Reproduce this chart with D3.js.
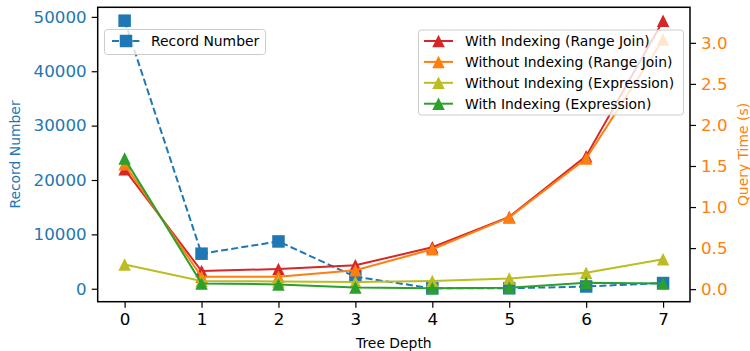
<!DOCTYPE html>
<html lang="en">
    <head>
        <meta charset="utf-8">
        <title>Record number and query time by tree depth</title>
        <script type="text/javascript" src="https://cdn.jsdelivr.net/npm/d3@7/dist/d3.min.js"></script>
        <style type="text/css">
            body { margin: 0; background: #fff; }
            svg { font-family: "DejaVu Sans", sans-serif; }
        </style>
    </head>
    <body>
        <script type="text/javascript">
            //Data
            var depth = [0, 1, 2, 3, 4, 5, 6, 7];
            var recordNumber = [49300, 6450, 8700, 2200, 80, 80, 420, 1050];
            var withIdxRange = [1.46, 0.22, 0.245, 0.29, 0.51, 0.88, 1.62, 3.27];
            var withoutIdxRange = [1.52, 0.15, 0.15, 0.23, 0.486, 0.874, 1.59, 3.04];
            var withoutIdxExpr = [0.30, 0.10, 0.094, 0.086, 0.10, 0.13, 0.20, 0.364];
            var withIdxExpr = [1.59, 0.07, 0.058, 0.02, 0.01, 0.016, 0.077, 0.07];
            var leftTicks = [0, 10000, 20000, 30000, 40000, 50000];
            var rightTicks = [0, 0.5, 1.0, 1.5, 2.0, 2.5, 3.0];

            var timeSeries = [
                { name: "With Indexing (Range Join)", values: withIdxRange, color: "#d62728" },
                { name: "Without Indexing (Range Join)", values: withoutIdxRange, color: "#ff7f0e" },
                { name: "Without Indexing (Expression)", values: withoutIdxExpr, color: "#bcbd22" },
                { name: "With Indexing (Expression)", values: withIdxExpr, color: "#2ca02c" }
            ];

            var w = 750;
            var h = 351;
            //plot box edges (note: "top" is reserved on window, so prefix these)
            var pLeft = 97.7, pRight = 690, pTop = 7.3, pBottom = 301.7;

            var svg = d3.select("body")
                        .append("svg")
                        .attr("width", w)
                        .attr("height", h);

            //matplotlib style 5% margins
            function padded(arr) {
                var ext = d3.extent(arr);
                var r = ext[1] - ext[0];
                return [ext[0] - 0.05 * r, ext[1] + 0.05 * r];
            }

            var xScale = d3.scaleLinear().domain([-0.35, 7.35]).range([pLeft, pRight]);
            var yLeft = d3.scaleLinear().domain(padded(recordNumber)).range([pBottom, pTop]);
            var allTimes = [].concat(withIdxRange, withoutIdxRange, withoutIdxExpr, withIdxExpr);
            var yRight = d3.scaleLinear().domain(padded(allTimes)).range([pBottom, pTop]);

            var blue = "#1f77b4", orange = "#ff7f0e";
            var ms = 12.5;
            var tri = d3.symbol().type({ draw: function(ctx, size) {
                var s = Math.sqrt(size) / 2;
                ctx.moveTo(0, -s); ctx.lineTo(s, s); ctx.lineTo(-s, s); ctx.closePath();
            }}).size(ms * ms);

            //Axes
            var xAxis = d3.axisBottom(xScale).tickValues(depth).tickSize(6).tickPadding(5);
            var lAxis = d3.axisLeft(yLeft).tickValues(leftTicks).tickSize(6).tickPadding(5)
                            .tickFormat(d3.format("d"));
            var rAxis = d3.axisRight(yRight).tickValues(rightTicks).tickSize(6).tickPadding(5)
                            .tickFormat(d3.format(".1f"));

            var gx = svg.append("g").attr("transform", "translate(0," + pBottom + ")").call(xAxis);
            var gl = svg.append("g").attr("transform", "translate(" + pLeft + ",0)").call(lAxis);
            var gr = svg.append("g").attr("transform", "translate(" + pRight + ",0)").call(rAxis);
            [gx, gl, gr].forEach(function(g) {
                g.select(".domain").remove();
                g.selectAll("line").attr("stroke", "#000").attr("stroke-width", 1.2);
                g.selectAll("text").attr("font-size", "16.7px").attr("font-family", "DejaVu Sans");
            });
            gx.selectAll("text").attr("fill", "#000");
            gl.selectAll("text").attr("fill", blue);
            gr.selectAll("text").attr("fill", orange);

            //Record number (left axis)
            var plot = svg.append("g");
            plot.append("path")
                .datum(depth)
                .attr("fill", "none")
                .attr("stroke", blue)
                .attr("stroke-width", 2)
                .attr("stroke-dasharray", "7,3.2")
                .attr("d", d3.line()
                    .x(function(d) { return xScale(d); })
                    .y(function(d, i) { return yLeft(recordNumber[i]); }));
            plot.selectAll("rect.rec")
                .data(depth)
                .enter()
                .append("rect")
                .attr("class", "rec")
                .attr("x", function(d) { return xScale(d) - ms / 2; })
                .attr("y", function(d, i) { return yLeft(recordNumber[i]) - ms / 2; })
                .attr("width", ms)
                .attr("height", ms)
                .attr("fill", blue);

            //Legend 1 (sits under the right-axis lines)
            var leg1 = svg.append("g");
            leg1.append("rect")
                .attr("x", 104.5).attr("y", 29.5).attr("width", 161).attr("height", 25)
                .attr("rx", 3).attr("fill", "#fff").attr("fill-opacity", 0.8)
                .attr("stroke", "#cccccc");
            leg1.append("line")
                .attr("x1", 112).attr("x2", 140).attr("y1", 41).attr("y2", 41)
                .attr("stroke", blue).attr("stroke-width", 2).attr("stroke-dasharray", "7,3.2");
            leg1.append("rect")
                .attr("x", 126 - ms / 2).attr("y", 41 - ms / 2).attr("width", ms).attr("height", ms)
                .attr("fill", blue);
            leg1.append("text")
                .attr("x", 151).attr("y", 41).attr("dy", "0.35em")
                .attr("font-size", "13.9px").attr("fill", "#000")
                .text("Record Number");

            //Query time series (right axis)
            timeSeries.forEach(function(s) {
                plot.append("path")
                    .datum(depth)
                    .attr("fill", "none")
                    .attr("stroke", s.color)
                    .attr("stroke-width", 2)
                    .attr("d", d3.line()
                        .x(function(d) { return xScale(d); })
                        .y(function(d, i) { return yRight(s.values[i]); }));
                plot.append("g").selectAll("path")
                    .data(depth)
                    .enter()
                    .append("path")
                    .attr("d", tri)
                    .attr("fill", s.color)
                    .attr("transform", function(d, i) {
                        return "translate(" + xScale(d) + "," + yRight(s.values[i]) + ")";
                    });
            });

            //Legend 2
            var leg2 = svg.append("g");
            leg2.append("rect")
                .attr("x", 418.5).attr("y", 30).attr("width", 265).attr("height", 85)
                .attr("rx", 3).attr("fill", "#fff").attr("fill-opacity", 0.8)
                .attr("stroke", "#cccccc");
            timeSeries.forEach(function(s, i) {
                var yy = 41 + i * 20.9;
                leg2.append("line")
                    .attr("x1", 424).attr("x2", 453).attr("y1", yy).attr("y2", yy)
                    .attr("stroke", s.color).attr("stroke-width", 2);
                leg2.append("path")
                    .attr("d", tri)
                    .attr("fill", s.color)
                    .attr("transform", "translate(438.5," + yy + ")");
                leg2.append("text")
                    .attr("x", 465).attr("y", yy).attr("dy", "0.35em")
                    .attr("font-size", "13.9px").attr("fill", "#000")
                    .text(s.name);
            });

            //Frame
            svg.append("rect")
                .attr("x", pLeft).attr("y", pTop)
                .attr("width", pRight - pLeft).attr("height", pBottom - pTop)
                .attr("fill", "none").attr("stroke", "#000").attr("stroke-width", 1.5);

            //Axis titles
            svg.append("text")
                .attr("x", (pLeft + pRight) / 2).attr("y", 343).attr("dy", "0.35em")
                .attr("text-anchor", "middle").attr("font-size", "13.9px").attr("fill", "#000")
                .text("Tree Depth");
            svg.append("text")
                .attr("transform", "translate(15," + (pTop + pBottom) / 2 + ") rotate(-90)")
                .attr("dy", "0.35em")
                .attr("text-anchor", "middle").attr("font-size", "13.9px").attr("fill", blue)
                .text("Record Number");
            svg.append("text")
                .attr("transform", "translate(743," + (pTop + pBottom) / 2 + ") rotate(-90)")
                .attr("dy", "0.35em")
                .attr("text-anchor", "middle").attr("font-size", "13.9px").attr("fill", orange)
                .text("Query Time (s)");
        </script>
    </body>
</html>
